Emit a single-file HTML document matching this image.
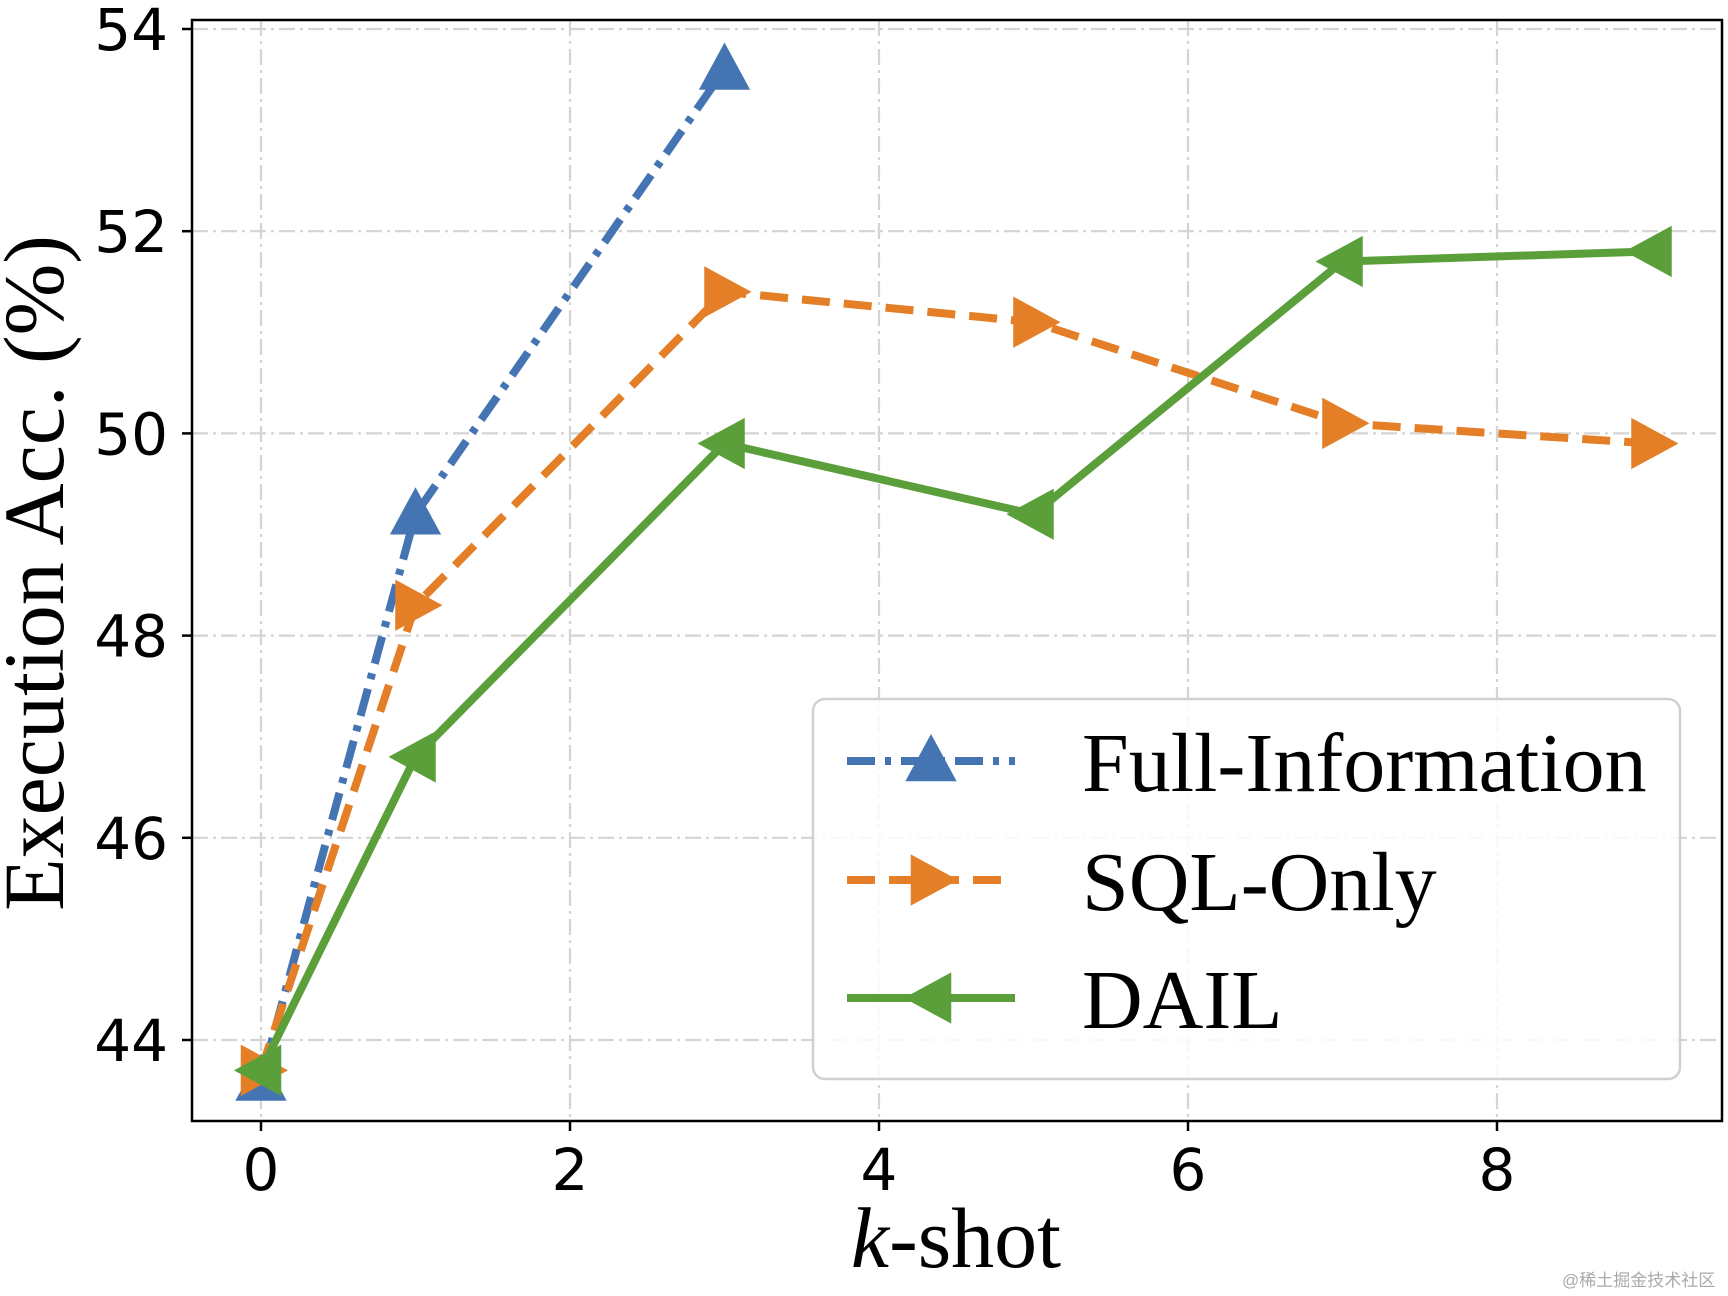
<!DOCTYPE html>
<html><head><meta charset="utf-8"><style>
html,body{margin:0;padding:0;background:#fff}
svg{display:block}
</style></head><body>
<svg id="chart" width="1728" height="1296" xmlns="http://www.w3.org/2000/svg">
<g id="grid"></g>
<g id="series"></g>
<rect x="192" y="20" width="1530" height="1101" fill="none" stroke="#000" stroke-width="2.5"/>
<g id="ticks"></g>
<text x="956" y="1267" text-anchor="middle" font-family="Liberation Serif, serif" font-size="86"><tspan font-style="italic">k</tspan>-shot</text>
<text transform="translate(63,573) rotate(-90)" text-anchor="middle" font-family="Liberation Serif, serif" font-size="86">Execution Acc. (%)</text>
<g>
<rect x="813" y="699" width="867" height="380" rx="12" fill="#fff" fill-opacity="0.85" stroke="#d0d0d0" stroke-width="2.5"/>
<g id="legend-items"></g>
</g>
</svg>
<script>
const xTicks=[0,2,4,6,8];
const yTicks=[44,46,48,50,52,54];
const seriesNames=["Full-Information","SQL-Only","DAIL"];
const fullX=[0,1,3];
const fullY=[43.6,49.2,53.6];
const sqlX=[0,1,3,5,7,9];
const sqlY=[43.7,48.3,51.4,51.1,50.1,49.9];
const dailX=[0,1,3,5,7,9];
const dailY=[43.7,46.8,49.9,49.2,51.7,51.8];

const NS="http://www.w3.org/2000/svg";
const X0=261, XS=154.5, Y0=29, YS=101.1;
const sx=v=>X0+v*XS, sy=v=>Y0+(54-v)*YS;
function mk(tag,attrs,parent){const e=document.createElementNS(NS,tag);for(const k in attrs)e.setAttribute(k,attrs[k]);parent.appendChild(e);return e;}
const grid=document.getElementById('grid'),ticks=document.getElementById('ticks'),ser=document.getElementById('series'),leg=document.getElementById('legend-items');
const gridStyle={stroke:"#d4d4d4","stroke-width":2.2,"stroke-dasharray":"16 5 3 5",fill:"none"};
xTicks.forEach(t=>{
  const l=mk('line',Object.assign({x1:sx(t),x2:sx(t),y1:20,y2:1121},gridStyle),grid);
  
  
  const tk=mk('line',{x1:sx(t),x2:sx(t),y1:1121,y2:1131,stroke:"#000","stroke-width":2.5},ticks);
  
  
  const tx=mk('text',{x:sx(t),y:1190,"text-anchor":"middle","font-family":"DejaVu Sans, sans-serif","font-size":58},ticks);
  tx.textContent=t;
  
  
});
yTicks.forEach(t=>{
  const l=mk('line',Object.assign({x1:192,x2:1722,y1:sy(t),y2:sy(t)},gridStyle),grid);
  
  
  const tk=mk('line',{x1:182,x2:192,y1:sy(t),y2:sy(t),stroke:"#000","stroke-width":2.5},ticks);
  
  
  const tx=mk('text',{x:168,y:sy(t)+21,"text-anchor":"end","font-family":"DejaVu Sans, sans-serif","font-size":58},ticks);
  tx.textContent=t;
  
  
});
const R=27;
function marker(type,cx,cy){
  let p;
  if(type==='up')p=[[cx,cy-R],[cx+R*0.95,cy+R*0.75],[cx-R*0.95,cy+R*0.75]];
  else if(type==='right')p=[[cx+R,cy],[cx-R*0.75,cy-R*0.95],[cx-R*0.75,cy+R*0.95]];
  else p=[[cx-R,cy],[cx+R*0.75,cy-R*0.95],[cx+R*0.75,cy+R*0.95]];
  return p.map(q=>q.join(',')).join(' ');
}
const defs=[
  {name:'full-information',xs:fullX,ys:fullY,color:'#4574b3',dash:'28 10 6 10',m:'up'},
  {name:'sql-only',xs:sqlX,ys:sqlY,color:'#e47f28',dash:'28 14',m:'right'},
  {name:'dail',xs:dailX,ys:dailY,color:'#5b9f3b',dash:'none',m:'left'}
];
const legY=[761,880,998];
defs.forEach((d,i)=>{
  const g=mk('g',{},ser);
  
  
  const pts=d.xs.map((x,j)=>sx(x)+','+sy(d.ys[j])).join(' ');
  const pl=mk('polyline',{points:pts,fill:'none',stroke:d.color,'stroke-width':8,'stroke-dasharray':d.dash,'stroke-linejoin':'round'},g);
  
  
  d.xs.forEach((x,j)=>{
    const m=mk('polygon',{points:marker(d.m,sx(x),sy(d.ys[j])),fill:d.color},g);
    
    
  });
  const lg=mk('g',{},leg);
  
  
  const ll=mk('line',{x1:847,x2:1015,y1:legY[i],y2:legY[i],stroke:d.color,'stroke-width':8,'stroke-dasharray':d.dash},lg);
  
  
  const lm=mk('polygon',{points:marker(d.m,931,legY[i]),fill:d.color},lg);
  
  
  const lt=mk('text',{x:1082,y:legY[i]+30,'font-family':'Liberation Serif, serif','font-size':84},lg);
  lt.textContent=seriesNames[i];
  
  
});
</script>
<div style="position:absolute;left:1562px;top:1266px;font-family:'Liberation Sans','Noto Sans CJK SC',sans-serif;font-size:17px;color:#aaa">@稀土掘金技术社区</div>
</body></html>
